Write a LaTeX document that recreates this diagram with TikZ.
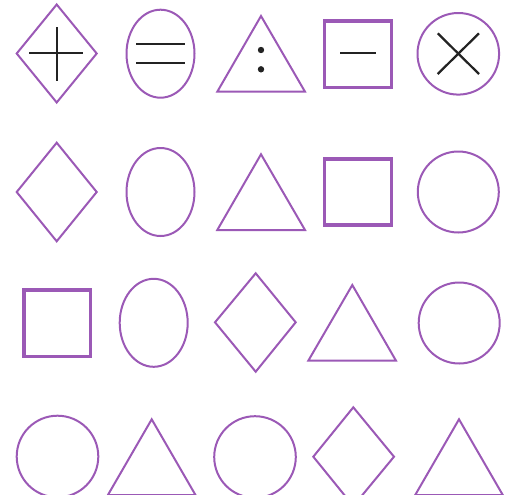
\documentclass[tikz,border=0pt]{standalone}
\usepackage{tikz}

\definecolor{shapepurple}{RGB}{155,89,182}
\definecolor{signgray}{RGB}{35,35,35}

\begin{document}
\begin{tikzpicture}[
    x=0.02cm, y=-0.02cm,
    outline/.style={draw=shapepurple, line width=0.04cm, line join=miter},
    thickbox/.style={outline, line width=0.07cm},
    signline/.style={draw=signgray, line width=0.045cm},
    dot/.style={fill=signgray}
]

% canvas, also cuts the bottom row
\clip (0,0) rectangle (524,494);

% ============ ROW 1: SHAPES WITH SIGNS ============
\draw[outline] (56.7,4.5) -- (96.7,53.5) -- (56.7,102.5) -- (16.7,53.5) -- cycle;
\draw[signline] (56.7,27.3) -- (56.7,80.7);
\draw[signline] (29.3,53.3) -- (83.3,53.3);

\draw[outline] (160.5,53.7) ellipse [x radius=34, y radius=44];
\draw[signline] (136,44) -- (185,44);
\draw[signline] (136,63.3) -- (185,63.3);

\draw[outline] (261,16) -- (305,91.7) -- (217.3,91.7) -- cycle;
\fill[dot] (261,50) circle [radius=3.2];
\fill[dot] (261,69.3) circle [radius=3.2];

\draw[thickbox] (324.5,20.8) rectangle (391.5,87.5);
\draw[signline] (340,53.3) -- (376,53.3);

\draw[outline] (458.3,53.8) circle [radius=40.8];
\draw[signline] (437.7,33.3) -- (479,74);
\draw[signline] (479,33.3) -- (437.7,74);

% ============ ROW 2 ============
\draw[outline] (56.7,142.7) -- (96.7,192) -- (56.7,241.3) -- (16.7,192) -- cycle;
\draw[outline] (160.5,192) ellipse [x radius=34, y radius=44];
\draw[outline] (261,154.3) -- (305,230) -- (217.3,230) -- cycle;
\draw[thickbox] (324.5,159) rectangle (391.5,225);
\draw[outline] (458.3,192) circle [radius=40.5];

% ============ ROW 3 ============
\draw[thickbox] (24,290) rectangle (90.5,356.5);
\draw[outline] (153.7,322.8) ellipse [x radius=34, y radius=44];
\draw[outline] (255.7,273.3) -- (295.7,322.3) -- (255.7,371.7) -- (215,322.3) -- cycle;
\draw[outline] (352.3,285) -- (396,360.7) -- (308.3,360.7) -- cycle;
\draw[outline] (459.2,323) circle [radius=40.5];

% ============ ROW 4 (cut off at the bottom) ============
\draw[outline] (57.5,456.5) circle [radius=40.8];
\draw[outline] (151.7,419.3) -- (195.5,495) -- (107.9,495) -- cycle;
\draw[outline] (255,457) circle [radius=40.8];
\draw[outline] (353.3,407.3) -- (394,456.7) -- (353.3,506) -- (313.3,456.7) -- cycle;
\draw[outline] (459,419.3) -- (502.8,495) -- (415.2,495) -- cycle;

\end{tikzpicture}
\end{document}
